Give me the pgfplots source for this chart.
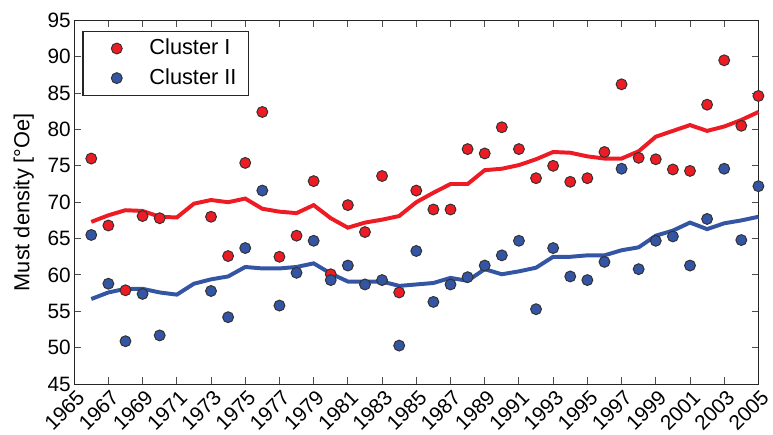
\documentclass[border=0pt]{standalone}
\usepackage{pgfplots}
\pgfplotsset{compat=1.18}
\usepackage{pgfplotstable}
\usepackage{fontspec}
\setmainfont{Liberation Sans}
\definecolor{cred}{RGB}{237,28,36}
\definecolor{cblue}{RGB}{52,84,164}
\definecolor{cedge}{RGB}{50,50,50}
\pgfplotstableread{
year val
1966 76.0
1967 66.8
1968 57.9
1969 68.1
1970 67.8
1973 68.0
1974 62.6
1975 75.4
1976 82.4
1977 62.5
1978 65.4
1979 72.9
1980 60.1
1981 69.6
1982 65.9
1983 73.6
1984 57.6
1985 71.6
1986 69.0
1987 69.0
1988 77.3
1989 76.7
1990 80.3
1991 77.3
1992 73.3
1993 75.0
1994 72.8
1995 73.3
1996 76.9
1997 86.2
1998 76.1
1999 75.9
2000 74.5
2001 74.3
2002 83.4
2003 89.5
2004 80.5
2005 84.6
}\redpts
\pgfplotstableread{
year val
1966 65.5
1967 58.8
1968 50.9
1969 57.4
1970 51.7
1973 57.8
1974 54.2
1975 63.7
1976 71.6
1977 55.8
1978 60.3
1979 64.7
1980 59.3
1981 61.3
1982 58.7
1983 59.3
1984 50.3
1985 63.3
1986 56.3
1987 58.7
1988 59.7
1989 61.3
1990 62.7
1991 64.7
1992 55.3
1993 63.7
1994 59.8
1995 59.3
1996 61.8
1997 74.6
1998 60.8
1999 64.7
2000 65.3
2001 61.3
2002 67.7
2003 74.6
2004 64.8
2005 72.2
}\bluepts
\pgfplotstableread{
year val
1966 67.3
1967 68.2
1968 68.9
1969 68.8
1970 68.0
1971 67.9
1972 69.8
1973 70.3
1974 70.0
1975 70.5
1976 69.1
1977 68.7
1978 68.5
1979 69.6
1980 67.8
1981 66.5
1982 67.2
1983 67.6
1984 68.1
1985 70.0
1986 71.3
1987 72.5
1988 72.5
1989 74.4
1990 74.6
1991 75.1
1992 75.9
1993 76.9
1994 76.8
1995 76.3
1996 76.0
1997 76.0
1998 77.0
1999 79.0
2000 79.8
2001 80.6
2002 79.8
2003 80.4
2004 81.3
2005 82.4
}\redline
\pgfplotstableread{
year val
1966 56.7
1967 57.6
1968 58.1
1969 58.1
1970 57.6
1971 57.3
1972 58.8
1973 59.4
1974 59.8
1975 61.1
1976 60.9
1977 60.9
1978 61.1
1979 61.6
1980 60.2
1981 59.1
1982 59.1
1983 59.1
1984 58.5
1985 58.7
1986 58.9
1987 59.6
1988 59.2
1989 60.8
1990 60.1
1991 60.5
1992 61.0
1993 62.5
1994 62.5
1995 62.7
1996 62.7
1997 63.4
1998 63.8
1999 65.4
2000 66.1
2001 67.2
2002 66.3
2003 67.1
2004 67.5
2005 68.0
}\blueline
\begin{document}
\begin{tikzpicture}
\begin{axis}[
  scale only axis,
  width=346pt, height=184pt,
  xmin=1965, xmax=2005, ymin=45, ymax=95,
  xtick={1965,1967,...,2005},
  ytick={45,50,...,95},
  /pgf/number format/assume math mode=true,
  xticklabel={\pgfmathprintnumber[1000 sep={}]{\tick}},
  xticklabel style={rotate=45, anchor=north east, inner sep=1pt, font=\fontsize{10.5}{12}\selectfont, yshift=-1pt},
  yticklabel style={font=\fontsize{10.5}{12}\selectfont, inner sep=1.5pt},
  tick align=inside,
  major tick length=3.5pt,
  tick style={color=black!70, line width=0.5pt},
  axis line style={color=black!85, line width=0.6pt},
  ylabel={Must density [\textdegree Oe]},
  ylabel style={font=\fontsize{11}{13}\selectfont, yshift=2pt},
  legend style={at={(0.012,0.9715)}, anchor=north west, draw=black!85, line width=0.6pt,
    font=\fontsize{11}{13}\selectfont, inner xsep=4pt, inner ysep=2pt, row sep=1.5pt},
  legend cell align=left,
  legend image code/.code={\path (0cm,0cm) (0.95cm,0cm); \draw[#1] plot coordinates {(0.45cm,0cm)};},
  clip=false,
]
\addplot[cred, line width=2pt, forget plot] table[x=year,y=val] {\redline};
\addplot[cblue, line width=2pt, forget plot] table[x=year,y=val] {\blueline};
\addplot[only marks, mark=*, mark size=2.75pt, mark options={fill=cred, draw=cedge, line width=0.5pt}] table[x=year,y=val] {\redpts};
\addplot[only marks, mark=*, mark size=2.75pt, mark options={fill=cblue, draw=cedge, line width=0.5pt}] table[x=year,y=val] {\bluepts};
\legend{Cluster I, Cluster II}
\end{axis}
\path[use as bounding box] ([xshift=-37.5pt,yshift=-21.75pt]current axis.south west) rectangle ([xshift=3pt,yshift=10.25pt]current axis.north east);
\end{tikzpicture}
\end{document}
